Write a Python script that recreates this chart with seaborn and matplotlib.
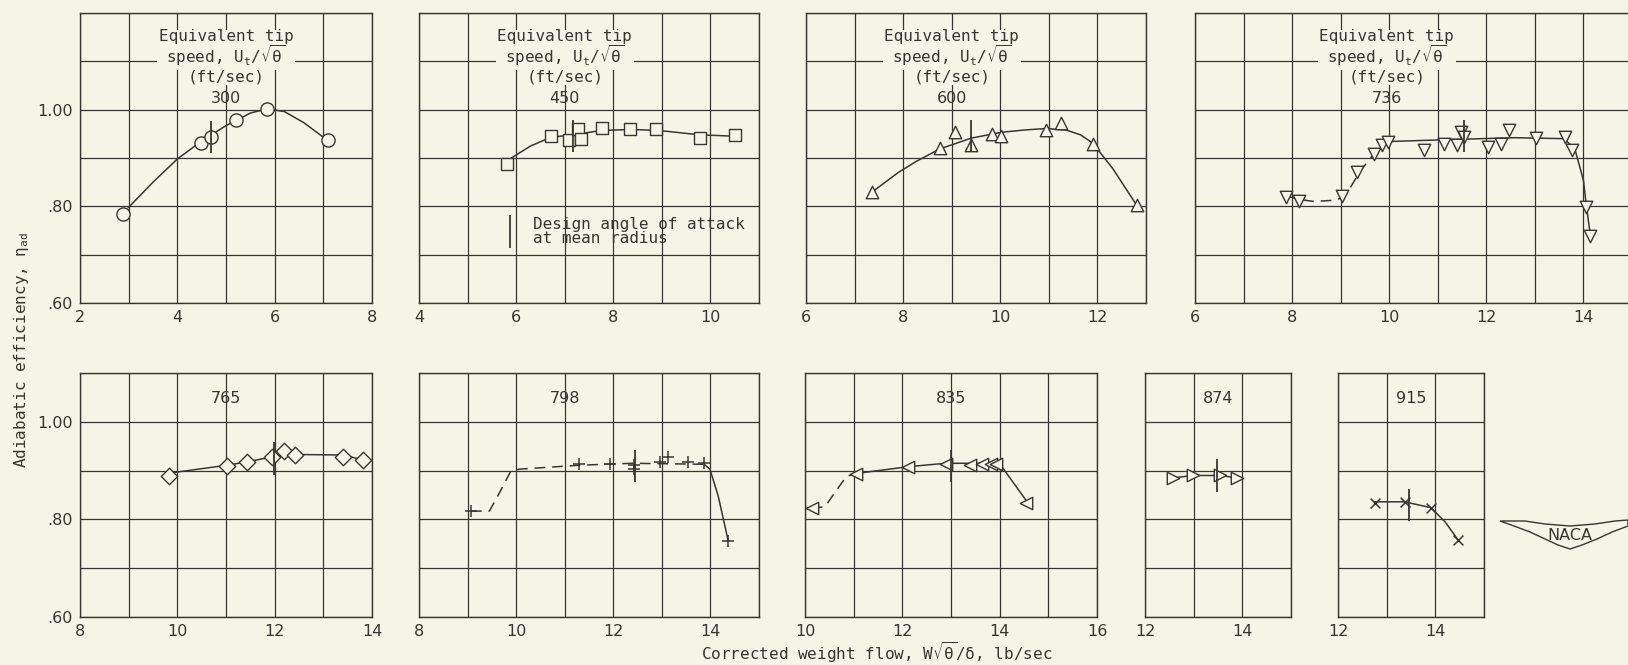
import matplotlib
matplotlib.use("Agg")
import matplotlib.pyplot as plt
from matplotlib.patches import Polygon
import seaborn as sns

sns.set_theme(style="white")
plt.rcParams['font.family'] = ['DejaVu Sans Mono', 'DejaVu Sans']
plt.rcParams['mathtext.fontset'] = 'dejavusans'
plt.rcParams['mathtext.default'] = 'regular'

bg = '#f6f4e6'
ink = '#3a3531'

# Vitesses de bout de pale équivalentes (ft/sec)
speeds = [300, 450, 600, 736, 765, 798, 835, 874, 915]

# Points mesurés : débit corrigé (lb/sec) et rendement adiabatique
flow_300 = [2.88, 4.48, 4.69, 5.20, 5.84, 7.09]
eff_300 = [0.785, 0.931, 0.943, 0.979, 1.002, 0.937]
flow_450 = [5.81, 6.72, 7.09, 7.28, 7.34, 7.76, 8.34, 8.88, 9.78, 10.51]
eff_450 = [0.888, 0.945, 0.938, 0.959, 0.940, 0.962, 0.960, 0.961, 0.941, 0.947]
flow_600 = [7.35, 8.76, 9.07, 9.39, 9.82, 10.01, 10.94, 11.25, 11.90, 12.81]
eff_600 = [0.830, 0.921, 0.954, 0.926, 0.950, 0.945, 0.957, 0.972, 0.930, 0.802]
flow_736 = [7.88, 8.14, 9.03, 9.34, 9.68, 9.86, 9.97, 10.72, 11.12, 11.40,
            11.48, 11.53, 12.03, 12.30, 12.46, 13.02, 13.61, 13.77, 14.06, 14.14]
eff_736 = [0.820, 0.812, 0.821, 0.871, 0.909, 0.926, 0.934, 0.916, 0.929, 0.926,
           0.954, 0.943, 0.922, 0.929, 0.957, 0.941, 0.943, 0.916, 0.798, 0.739]
flow_765 = [9.83, 11.02, 11.44, 11.94, 12.19, 12.42, 13.40, 13.82]
eff_765 = [0.889, 0.910, 0.918, 0.927, 0.940, 0.932, 0.928, 0.922]
flow_798 = [9.07, 11.30, 11.93, 12.43, 12.43, 12.96, 13.12, 13.54, 13.87, 14.36]
eff_798 = [0.817, 0.914, 0.913, 0.911, 0.903, 0.918, 0.927, 0.918, 0.915, 0.755]
flow_835 = [10.14, 11.04, 12.12, 12.89, 13.39, 13.63, 13.83, 13.93, 14.55]
eff_835 = [0.823, 0.893, 0.907, 0.914, 0.912, 0.914, 0.914, 0.914, 0.833]
flow_874 = [12.57, 12.98, 13.55, 13.89]
eff_874 = [0.885, 0.890, 0.890, 0.885]
flow_915 = [12.75, 13.37, 13.91, 14.46]
eff_915 = [0.834, 0.836, 0.824, 0.757]

# Courbes tracées à la main (partie continue)
fit_x_300 = [2.99, 3.5, 4.0, 4.5, 5.0, 5.5, 5.85, 6.2, 6.6, 7.0]
fit_y_300 = [0.797, 0.850, 0.898, 0.935, 0.967, 0.993, 1.002, 0.996, 0.973, 0.943]
fit_x_450 = [5.9, 6.3, 6.72, 7.17, 7.76, 8.39, 8.93, 9.78, 10.51]
fit_y_450 = [0.900, 0.925, 0.943, 0.948, 0.957, 0.959, 0.957, 0.948, 0.945]
fit_x_600 = [7.42, 7.9, 8.27, 8.76, 9.40, 10.01, 10.5, 10.94, 11.35, 11.65, 11.9, 12.31, 12.81]
fit_y_600 = [0.834, 0.870, 0.893, 0.919, 0.941, 0.953, 0.958, 0.961, 0.958, 0.948, 0.931, 0.879, 0.802]
fit_x_736 = [9.97, 11.21, 12.59, 13.61, 13.83, 14.0, 14.06, 14.14]
fit_y_736 = [0.934, 0.938, 0.942, 0.940, 0.916, 0.854, 0.801, 0.742]
fit_x_765 = [9.92, 11.02, 11.44, 11.94, 12.42, 13.40, 13.82]
fit_y_765 = [0.896, 0.911, 0.918, 0.928, 0.933, 0.932, 0.922]
fit_x_798 = [13.87, 13.99, 14.16, 14.36]
fit_y_798 = [0.913, 0.903, 0.848, 0.759]
fit_x_835 = [11.04, 12.12, 12.89, 13.93, 14.03, 14.55]
fit_y_835 = [0.894, 0.908, 0.915, 0.915, 0.910, 0.838]
fit_x_874 = [12.57, 12.98, 13.55, 13.89]
fit_y_874 = [0.885, 0.890, 0.890, 0.885]
fit_x_915 = [12.75, 13.37, 13.91, 14.2, 14.46]
fit_y_915 = [0.836, 0.836, 0.824, 0.795, 0.759]

# Courbes en tirets (zone instable)
dash_x_736 = [7.88, 8.1, 8.45, 8.93, 9.14, 9.41, 9.69, 9.97]
dash_y_736 = [0.822, 0.815, 0.810, 0.813, 0.829, 0.874, 0.909, 0.934]
dash_x_798 = [9.07, 9.45, 9.66, 9.89, 10.07, 11.30, 12.39, 13.87]
dash_y_798 = [0.817, 0.817, 0.855, 0.899, 0.903, 0.911, 0.915, 0.913]
dash_x_835 = [10.14, 10.41, 10.65, 10.85, 11.04]
dash_y_835 = [0.823, 0.826, 0.860, 0.888, 0.894]

# Angle d'attaque de conception au rayon moyen
design_x = [4.69, 7.17, 9.40, 11.55, 11.98, 12.45, 13.01, 13.48, 13.45]
design_y = [0.943, 0.945, 0.945, 0.945, 0.925, 0.910, 0.910, 0.890, 0.830]

points = [(flow_300, eff_300), (flow_450, eff_450), (flow_600, eff_600),
          (flow_736, eff_736), (flow_765, eff_765), (flow_798, eff_798),
          (flow_835, eff_835), (flow_874, eff_874), (flow_915, eff_915)]
fits = [(fit_x_300, fit_y_300), (fit_x_450, fit_y_450), (fit_x_600, fit_y_600),
        (fit_x_736, fit_y_736), (fit_x_765, fit_y_765), (fit_x_798, fit_y_798),
        (fit_x_835, fit_y_835), (fit_x_874, fit_y_874), (fit_x_915, fit_y_915)]
dashes = {3: (dash_x_736, dash_y_736), 5: (dash_x_798, dash_y_798), 6: (dash_x_835, dash_y_835)}

markers = ['o', 's', '^', 'v', 'D', '+', '<', '>', 'x']
sizes = [90, 70, 80, 80, 70, 80, 80, 80, 50]

# Position des panneaux en pixels (gauche, droite, haut, bas) et limites en x
W, H = 1628, 665
panels = [
    (80, 372, 13, 303, 2, 8, 1.2),
    (419, 759, 13, 303, 4, 11, 1.2),
    (806, 1146, 13, 303, 6, 13, 1.2),
    (1195, 1632, 13, 303, 6, 15, 1.2),
    (80, 372, 373, 617, 8, 14, 1.1),
    (419, 759, 373, 617, 8, 15, 1.1),
    (805, 1097, 373, 617, 10, 16, 1.1),
    (1145, 1291, 373, 617, 12, 15, 1.1),
    (1338, 1484, 373, 617, 12, 15, 1.1),
]
label_x = [5, 7, 9, 9.95, 11, 11, 13, 13.5, 13.5]

fig = plt.figure(figsize=(W / 100, H / 100), dpi=100)
fig.patch.set_facecolor(bg)

for i, (l, r, t, b, x0, x1, ytop) in enumerate(panels):
    ax = fig.add_axes([l / W, 1 - b / H, (r - l) / W, (b - t) / H])
    ax.set_facecolor(bg)
    ax.set_xlim(x0, x1)
    ax.set_ylim(0.6, ytop)
    xt = list(range(x0, x1 + 1))
    ax.set_xticks(xt)
    ax.set_xticklabels([str(v) if v % 2 == 0 else '' for v in xt], family='DejaVu Sans')
    yt = [round(0.6 + 0.1 * k, 2) for k in range(int(round((ytop - 0.6) / 0.1)) + 1)]
    ax.set_yticks(yt)
    if i in (0, 4):
        ax.set_yticklabels([{0.6: '.60', 0.8: '.80', 1.0: '1.00'}.get(v, '') for v in yt],
                           family='DejaVu Sans')
    else:
        ax.set_yticklabels([])
    ax.tick_params(length=0, labelsize=11.5, colors=ink, pad=5)
    ax.grid(True, color=ink, lw=0.9)
    ax.set_axisbelow(True)
    for s in ax.spines.values():
        s.set_color(ink)
        s.set_linewidth(1.0)

    fx, fy = fits[i]
    sns.lineplot(x=fx, y=fy, ax=ax, sort=False, estimator=None, color=ink, lw=1.1, zorder=3)
    if i in dashes:
        dx, dy = dashes[i]
        sns.lineplot(x=dx, y=dy, ax=ax, sort=False, estimator=None, color=ink, lw=1.1,
                     linestyle=(0, (7, 4.5)), zorder=3)

    px, py = points[i]
    if markers[i] in ('+', 'x'):
        sns.scatterplot(x=px, y=py, ax=ax, marker=markers[i], s=sizes[i], color=ink,
                        linewidth=1.1, zorder=4)
    else:
        sns.scatterplot(x=px, y=py, ax=ax, marker=markers[i], s=sizes[i], facecolor=bg,
                        edgecolor=ink, linewidth=1.0, zorder=4)

    ax.vlines(design_x[i], design_y[i] - 0.033, design_y[i] + 0.033, color=ink, lw=1.3, zorder=5)

    if i < 4:
        ax.text(label_x[i], 1.126, 'Equivalent tip\nspeed, $U_t/\\sqrt{\\theta}$', ha='center',
                va='center', fontsize=11.5, color=ink, linespacing=0.95, zorder=6,
                bbox=dict(facecolor=bg, edgecolor='none', pad=1))
        ax.text(label_x[i], 1.067, '(ft/sec)', ha='center', va='center', fontsize=11.5,
                color=ink, zorder=6, bbox=dict(facecolor=bg, edgecolor='none', pad=0.5))
        ax.text(label_x[i], 1.023, str(speeds[i]), ha='center', va='center', fontsize=11.5,
                color=ink, family='DejaVu Sans', zorder=6)
    else:
        ax.text(label_x[i], 1.047, str(speeds[i]), ha='center', va='center', fontsize=11.5,
                color=ink, family='DejaVu Sans', zorder=6)

    if i == 1:
        ax.vlines(5.87, 0.713, 0.783, color=ink, lw=1.3)
        ax.text(6.35, 0.748, 'Design angle of attack\nat mean radius', ha='left', va='center',
                fontsize=11.5, color=ink, linespacing=0.95)

fig.text(22 / W, 1 - 350 / H, 'Adiabatic efficiency, $\\eta_{ad}$', rotation=90,
         ha='center', va='center', fontsize=11.5, color=ink)
fig.text(877 / W, 1 - 653 / H, 'Corrected weight flow, $W\\sqrt{\\theta}/\\delta$, lb/sec',
         ha='center', va='center', fontsize=11.5, color=ink)

# Logo NACA
wing = [(1500, 521), (1525, 521), (1545, 524), (1570, 526), (1595, 524), (1615, 521),
        (1628, 520), (1628, 526), (1612, 532), (1597, 539), (1582, 545), (1570, 549),
        (1558, 545), (1545, 539), (1530, 532), (1514, 526)]
fig.add_artist(Polygon([(x / W, 1 - y / H) for x, y in wing], closed=True, transform=fig.transFigure,
                       facecolor=bg, edgecolor=ink, lw=1.0, zorder=1))
fig.text(1570 / W, 1 - 536 / H, 'NACA', ha='center', va='center', fontsize=11.5,
         family='DejaVu Sans', color=ink, zorder=2)

fig.savefig('out.png', dpi=100, facecolor=bg)
